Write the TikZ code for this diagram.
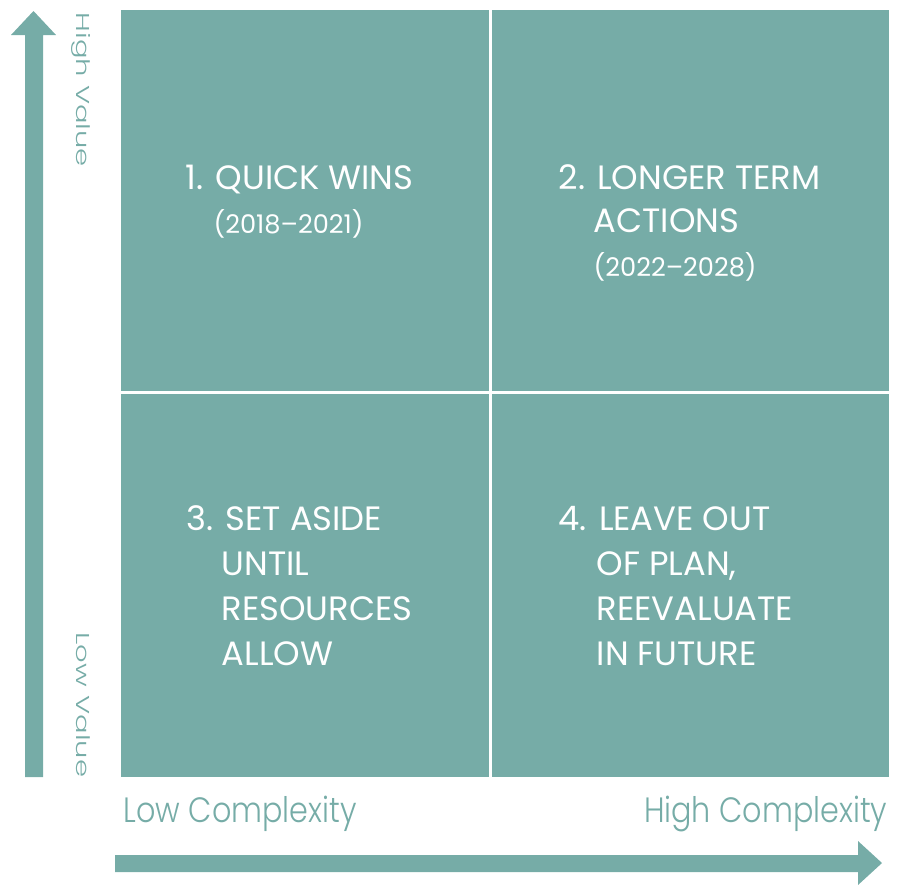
\documentclass[tikz,border=0pt]{standalone}
\usepackage{fontspec}
\setmainfont{Poppins}
\newfontfamily\lightfont{Poppins Light}
\usepackage{xcolor}
\usepackage{tikz}
\definecolor{sage}{RGB}{118,172,167}

\begin{document}
\begin{tikzpicture}[x=0.01cm,y=-0.01cm,
		quad/.style={text=white,inner sep=0pt,anchor=base west,font=\fontsize{9.6}{11}\selectfont},
		years/.style={quad,font=\fontsize{7.3}{8}\selectfont},
		axislabel/.style={text=sage,inner sep=0pt,font=\lightfont\fontsize{10}{12}\selectfont},
		sidelabel/.style={text=sage,inner sep=0pt,rotate=-90,anchor=base west,font=\lightfont\fontsize{5.3}{6}\selectfont}]
		\useasboundingbox (0,0) rectangle (903,884);
		%
		% matrix cells
		\fill[sage] (121,10) rectangle (889,777);
		\draw[white,line width=0.03cm] (490.5,10) -- (490.5,777);
		\draw[white,line width=0.03cm] (121,392) -- (889,392);
		%
		% axis arrows
		\fill[sage] (25,777) -- (25,35) -- (11,35) -- (33.5,11) -- (56,35) -- (43,35) -- (43,777) -- cycle;
		\fill[sage] (115,855) -- (858,855) -- (858,841) -- (882,863) -- (858,885) -- (858,872) -- (115,872) -- cycle;
		%
		% axis labels
		\node[sidelabel] (hival) at (77,12) {\scalebox{1.56}[1]{High Value}};
		\node[sidelabel] (loval) at (77,632) {\scalebox{1.56}[1]{Low Value}};
		\node[axislabel,anchor=base west] (locx) at (123,822) {\scalebox{0.86}[1]{Low Complexity}};
		\node[axislabel,anchor=base east] (hicx) at (888,822) {\scalebox{0.86}[1]{High Complexity}};
		%
		% quadrant texts
		\node[quad] (q1) at (185,189) {1. QUICK WINS};
		\node[years] (q1y) at (213,233) {(2018--2021)};
		\node[quad] (q2) at (558,189) {2. LONGER TERM};
		\node[quad] (q2b) at (593,232) {ACTIONS};
		\node[years] (q2y) at (593,276) {(2022--2028)};
		\node[quad] (q3) at (186,530) {3. SET ASIDE};
		\foreach \t [count=\i] in {UNTIL,RESOURCES,ALLOW}
			\node[quad] (q3\i) at (221,530+45*\i) {\t};
		\node[quad] (q4) at (558,530) {4. LEAVE OUT};
		\foreach \t [count=\i] in {{OF PLAN,},REEVALUATE,IN FUTURE}
			\node[quad] (q4\i) at (596,530+45*\i) {\t};
\end{tikzpicture}
\end{document}
